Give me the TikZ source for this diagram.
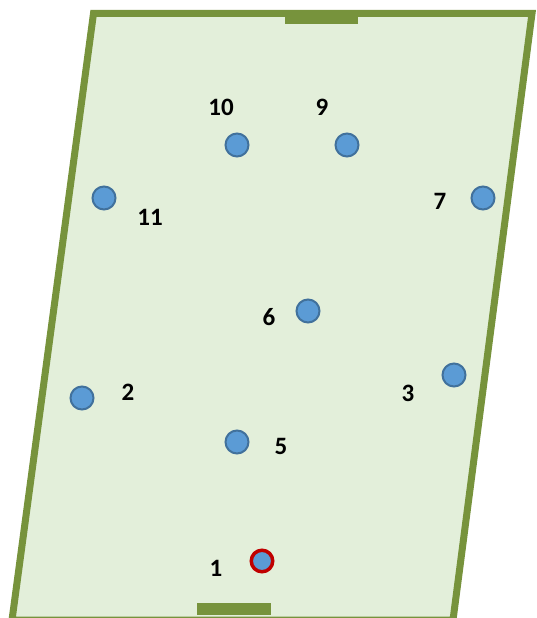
\documentclass[tikz,border=0pt]{standalone}
\usepackage{fontspec}
\setmainfont{Carlito}
\usepackage{xcolor}

\definecolor{pitch}{RGB}{227,239,218}
\definecolor{lineolive}{RGB}{119,147,60}
\definecolor{shirt}{RGB}{91,155,213}
\definecolor{shirtedge}{RGB}{65,113,156}
\definecolor{keeperedge}{RGB}{192,0,0}

\begin{document}
\begin{tikzpicture}[x=1pt,y=-1pt,
  player/.style={circle,fill=shirt,draw=shirtedge,line width=2pt,minimum size=23pt,inner sep=0pt},
  keeper/.style={player,draw=keeperedge,line width=3.5pt,minimum size=21.5pt},
  num/.style={font=\fontsize{25}{30}\selectfont\bfseries,inner sep=0pt}]
\useasboundingbox (0,0) rectangle (536,618);
\clip (0,0) rectangle (536,618);

% pitch
\fill[pitch] (93.5,13.5) -- (532,13.5) -- (453,620) -- (12,620) -- cycle;
\fill[lineolive] (285,10) rectangle (358,24);
\fill[lineolive] (197,603) rectangle (271,615);
\draw[lineolive,line width=7pt,line join=miter] (93.5,13.5) -- (532,13.5) -- (453,620) -- (12,620) -- cycle;

% players
\node[keeper] (p1) at (262,561) {};
\node[player] (p2) at (82,398) {};
\node[player] (p3) at (454,375) {};
\node[player] (p5) at (237,442) {};
\node[player] (p6) at (308,311) {};
\node[player] (p7) at (483,198) {};
\node[player] (p9) at (347,145) {};
\node[player] (p10) at (237,145) {};
\node[player] (p11) at (104,198) {};

% numbers
\node[num] (n1) at (216,568) {1};
\node[num] (n2) at (128,392) {2};
\node[num] (n3) at (408,393) {3};
\node[num] (n5) at (281,446) {5};
\node[num] (n6) at (269,317) {6};
\node[num] (n7) at (440,201) {7};
\node[num] (n9) at (322,107) {9};
\node[num] (n10) at (221,107) {10};
\node[num] (n11) at (150,217) {11};
\end{tikzpicture}
\end{document}
